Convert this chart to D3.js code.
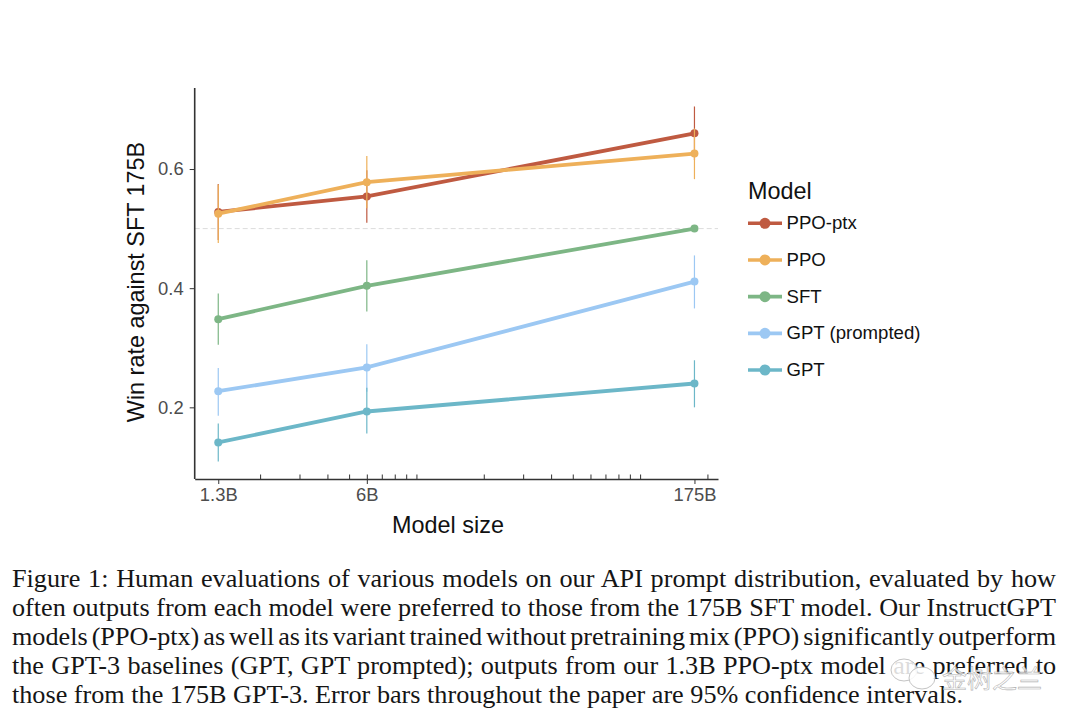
<!DOCTYPE html>
<html>
<head>
<meta charset="utf-8">
<script src="https://cdn.jsdelivr.net/npm/d3@7/dist/d3.min.js"></script>
<style>
  html, body { margin: 0; padding: 0; background: #fff; }
  svg { display: block; }
  text { font-family: "Liberation Sans", Arial, sans-serif; }
  .caption text { font-family: "Liberation Serif", "Times New Roman", serif; font-size: 26.2px; fill: #151515; }
</style>
</head>
<body>
<div id="chart"></div>
<script>
// Data
const modelSizes = [1.3, 6, 175];
const sizeLabels = ['1.3B', '6B', '175B'];
const minorSizes = [2, 3, 4, 5, 7, 8, 9, 10, 20, 30, 40, 50, 60, 70, 80, 90, 100, 200];
const winTicks = [0.2, 0.4, 0.6];

const modelNames = ['PPO-ptx', 'PPO', 'SFT', 'GPT (prompted)', 'GPT'];
const modelColors = ['#bf5a41', '#eeb05a', '#7db685', '#9cc8f3', '#6cb7c8'];

const ppoPtxWin = [0.528, 0.554, 0.660];
const ppoPtxLow = [0.481, 0.510, 0.615];
const ppoPtxHigh = [0.575, 0.598, 0.705];

const ppoWin = [0.525, 0.578, 0.626];
const ppoLow = [0.476, 0.534, 0.583];
const ppoHigh = [0.574, 0.622, 0.668];

const sftWin = [0.348, 0.404, 0.500];
const sftLow = [0.305, 0.361, 0.500];
const sftHigh = [0.391, 0.447, 0.500];

const promptedWin = [0.227, 0.267, 0.411];
const promptedLow = [0.186, 0.226, 0.366];
const promptedHigh = [0.266, 0.306, 0.455];

const gptWin = [0.141, 0.193, 0.240];
const gptLow = [0.109, 0.156, 0.200];
const gptHigh = [0.173, 0.233, 0.279];

const captionLines = [
    'Figure 1: Human evaluations of various models on our API prompt distribution, evaluated by how',
    'often outputs from each model were preferred to those from the 175B SFT model. Our InstructGPT',
    'models (PPO-ptx) as well as its variant trained without pretraining mix (PPO) significantly outperform',
    'the GPT-3 baselines (GPT, GPT prompted); outputs from our 1.3B PPO-ptx model are preferred to',
    'those from the 175B GPT-3. Error bars throughout the paper are 95% confidence intervals.'
];

const series = [
    { win: ppoPtxWin, low: ppoPtxLow, high: ppoPtxHigh },
    { win: ppoWin, low: ppoLow, high: ppoHigh },
    { win: sftWin, low: sftLow, high: sftHigh },
    { win: promptedWin, low: promptedLow, high: promptedHigh },
    { win: gptWin, low: gptLow, high: gptHigh }
].map((s, i) => ({
    name: modelNames[i],
    points: modelSizes.map((size, j) => ({ size, win: s.win[j], low: s.low[j], high: s.high[j] }))
}));

const svg = d3.select('#chart').append('svg')
    .attr('width', 1080)
    .attr('height', 725);

// Scales
const xScale = d3.scaleLog().domain([1.02, 223]).range([194.7, 718]);
const yScale = d3.scaleLinear().domain([0.0797, 0.736]).range([479, 88]);
const color = d3.scaleOrdinal().domain(modelNames).range(modelColors);

// Reference line at 50%
svg.append('line')
    .attr('x1', xScale.range()[0])
    .attr('x2', xScale.range()[1])
    .attr('y1', yScale(0.5))
    .attr('y2', yScale(0.5))
    .attr('stroke', '#dcdcdc')
    .attr('stroke-width', 1)
    .attr('stroke-dasharray', '5,3');

// Error bars
const groups = svg.selectAll('g.model')
    .data(series)
    .join('g')
    .attr('class', 'model');

groups.selectAll('line.err')
    .data(d => d.points.map(p => ({ ...p, name: d.name })))
    .join('line')
    .attr('class', 'err')
    .attr('x1', d => xScale(d.size))
    .attr('x2', d => xScale(d.size))
    .attr('y1', d => yScale(d.low))
    .attr('y2', d => yScale(d.high))
    .attr('stroke', d => color(d.name))
    .attr('stroke-width', 1.2);

// Lines and points
const line = d3.line()
    .x(d => xScale(d.size))
    .y(d => yScale(d.win));

groups.append('path')
    .attr('d', d => line(d.points))
    .attr('fill', 'none')
    .attr('stroke', d => color(d.name))
    .attr('stroke-width', 3.8);

groups.selectAll('circle')
    .data(d => d.points.map(p => ({ ...p, name: d.name })))
    .join('circle')
    .attr('cx', d => xScale(d.size))
    .attr('cy', d => yScale(d.win))
    .attr('r', 4)
    .attr('fill', d => color(d.name));

// Axes
const gx = svg.append('g')
    .attr('transform', 'translate(0,479)')
    .call(d3.axisBottom(xScale)
        .tickValues(modelSizes)
        .tickFormat((d, i) => sizeLabels[i])
        .tickSize(5)
        .tickPadding(4));

const gMinor = svg.append('g')
    .attr('transform', 'translate(0,479)')
    .call(d3.axisTop(xScale)
        .tickValues(minorSizes.concat([6]))
        .tickFormat('')
        .tickSize(4.5)
        .tickSizeOuter(0));

const gy = svg.append('g')
    .attr('transform', 'translate(194.7,0)')
    .call(d3.axisLeft(yScale)
        .tickValues(winTicks)
        .tickFormat(d3.format('.1f'))
        .tickSize(5)
        .tickPadding(6));

[gx, gMinor, gy].forEach(a => {
    a.selectAll('text').attr('fill', '#4d4d4d').style('font-size', '18.4px');
    a.selectAll('.tick line').attr('stroke', '#333').attr('stroke-width', 1);
    a.selectAll('.domain').attr('stroke', '#333').attr('stroke-width', 1.6);
});
gx.selectAll('.domain').remove();
gy.selectAll('.domain').attr('d', 'M0,479V88');

// Axis titles
svg.append('text')
    .attr('x', 448)
    .attr('y', 533)
    .attr('text-anchor', 'middle')
    .attr('fill', '#111')
    .style('font-size', '23.4px')
    .text('Model size');

svg.append('text')
    .attr('transform', 'translate(144,282) rotate(-90)')
    .attr('text-anchor', 'middle')
    .attr('fill', '#111')
    .style('font-size', '23.4px')
    .text('Win rate against SFT 175B');

// Legend
svg.append('text')
    .attr('x', 748)
    .attr('y', 199)
    .attr('fill', '#111')
    .style('font-size', '23.4px')
    .text('Model');

const legendY = d3.scalePoint().domain(modelNames).range([223.3, 370]);

const legend = svg.selectAll('g.legend')
    .data(modelNames)
    .join('g')
    .attr('class', 'legend')
    .attr('transform', d => `translate(748,${legendY(d)})`);

legend.append('line')
    .attr('x2', 34)
    .attr('stroke', d => color(d))
    .attr('stroke-width', 3.6);

legend.append('circle')
    .attr('cx', 17)
    .attr('r', 5.5)
    .attr('fill', d => color(d));

legend.append('text')
    .attr('x', 38.5)
    .attr('y', 6)
    .attr('fill', '#111')
    .style('font-size', '18.6px')
    .text(d => d);

// Caption, justified by word spacing
const captionWidth = 1044;
const caption = svg.append('g').attr('class', 'caption');

caption.selectAll('text')
    .data(captionLines)
    .join('text')
    .attr('x', 12)
    .attr('y', (d, i) => 587 + i * 29)
    .text(d => d)
    .each(function (d, i) {
        if (i === captionLines.length - 1) return;
        const gaps = d.split(' ').length - 1;
        const extra = (captionWidth - this.getComputedTextLength()) / gaps;
        d3.select(this).style('word-spacing', extra + 'px');
    });

// Watermark over the caption
const mark = svg.append('g').attr('fill', '#fff').attr('stroke', '#c4c4c4').attr('stroke-width', 1);
mark.append('ellipse').attr('cx', 904).attr('cy', 670).attr('rx', 13).attr('ry', 11).attr('fill-opacity', 0.85);
mark.append('ellipse').attr('cx', 922).attr('cy', 678).attr('rx', 13).attr('ry', 11).attr('fill-opacity', 0.85);
svg.append('text')
    .attr('x', 942)
    .attr('y', 688)
    .attr('fill', '#fff')
    .attr('fill-opacity', 0.8)
    .attr('stroke', '#b4b4b4')
    .attr('stroke-width', 0.6)
    .style('font-family', '"Noto Sans CJK SC"')
    .style('font-size', '25px')
    .text('金树之兰');
</script>
</body>
</html>
